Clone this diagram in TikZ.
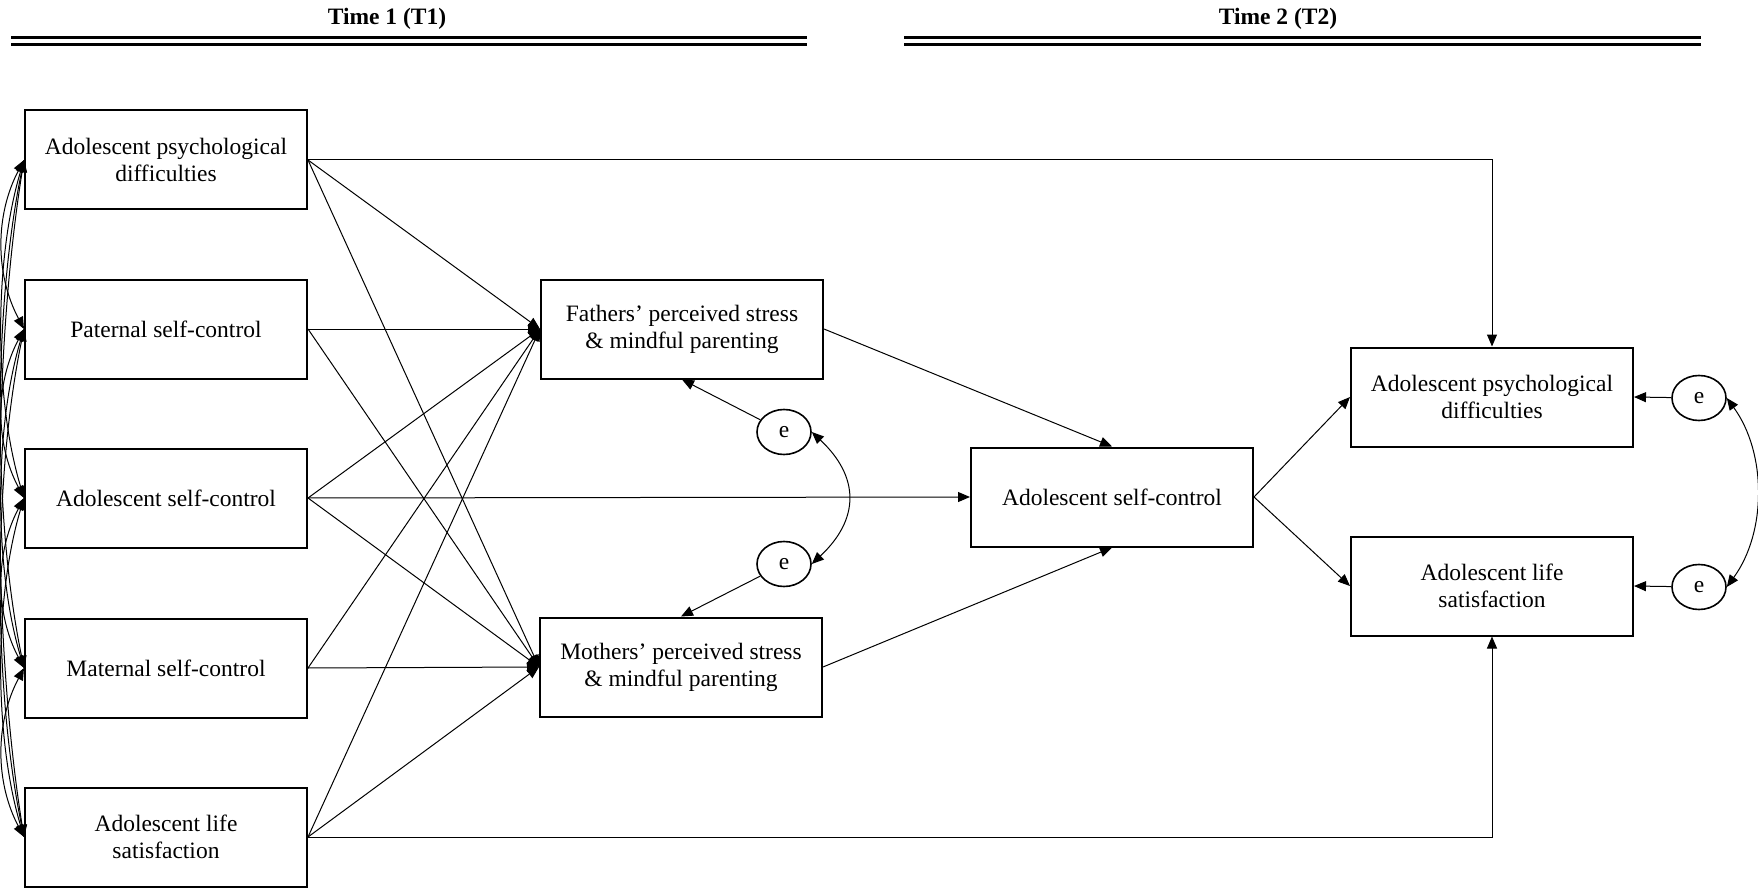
\documentclass[tikz,border=0pt]{standalone}
\usepackage{fontspec}
\setmainfont{Liberation Serif}
\usetikzlibrary{arrows.meta,shapes.geometric}
\begin{document}
\begin{tikzpicture}[x=0.5pt,y=-0.5pt,
  box/.style={draw, line width=1pt, minimum width=141pt, minimum height=49.5pt, align=center, inner sep=0pt, font=\fontsize{11.75pt}{13.5pt}\selectfont},
  err/.style={draw, line width=0.8pt, ellipse, minimum width=27pt, minimum height=22.5pt, inner sep=0pt, font=\fontsize{11.75pt}{13.5pt}\selectfont},
  arr/.style={line width=0.5pt, -{Triangle[length=6pt,width=5pt]}},
  darr/.style={line width=0.5pt, {Triangle[length=6pt,width=5pt]}-{Triangle[length=6pt,width=5pt]}},
  hdr/.style={font=\fontsize{11.75pt}{13.5pt}\selectfont\bfseries},
  rule/.style={line width=1.5pt}
]
\useasboundingbox (0,0) rectangle (1758,888);

% headers
\node[hdr] (h1) at (387,19) {Time 1 (T1)};
\node[hdr] (h2) at (1278,19) {Time 2 (T2)};
\draw[rule] (11,38) -- (807,38);
\draw[rule] (11,45) -- (807,45);
\draw[rule] (904,38) -- (1701,38);
\draw[rule] (904,45) -- (1701,45);

% T1 boxes
\node[box] (L1) at (166,160) {Adolescent psychological\\difficulties};
\node[box] (L2) at (166,329) {Paternal self-control};
\node[box] (L3) at (166,498) {Adolescent self-control};
\node[box] (L4) at (166,668) {Maternal self-control};
\node[box] (L5) at (166,837) {Adolescent life\\satisfaction};

% mediators
\node[box] (F) at (682,329) {Fathers’ perceived stress\\\& mindful parenting};
\node[box] (M) at (681,667) {Mothers’ perceived stress\\\& mindful parenting};
\node[box] (C) at (1112,497) {Adolescent self-control};

% T2 outcomes
\node[box] (R1) at (1492,397) {Adolescent psychological\\difficulties};
\node[box] (R2) at (1492,586) {Adolescent life\\satisfaction};

% error terms
\node[err] (e1) at (784,432) {e};
\node[err] (e2) at (784,564) {e};
\node[err] (r1) at (1699,398) {e};
\node[err] (r2) at (1699,587) {e};

% correlations among T1 variables
\foreach \i/\j/\c/\d in {1/2/29/55, 2/3/29/55, 3/4/29/55, 4/5/29/55,
                         1/3/30/100, 2/4/30/100, 3/5/30/100,
                         1/4/31/150, 2/5/31/150, 1/5/32/200}
  \draw[darr] (L\i.west) .. controls +(-\c,\d) and +(-\c,-\d) .. (L\j.west);

% paths to mediators
\foreach \i in {1,...,5} {
  \draw[arr] (L\i.east) -- (F.west);
  \draw[arr] (L\i.east) -- (M.west);
}
\draw[arr] (L3.east) -- (C.west);
\draw[arr] (L1.east) -| (R1.north);
\draw[arr] (L5.east) -| (R2.south);

\draw[arr] (F.east) -- (C.north);
\draw[arr] (M.east) -- (C.south);
\draw[arr] (C.east) -- (R1.west);
\draw[arr] (C.east) -- (R2.west);

% error terms
\draw[arr] (e1) -- (F.south);
\draw[arr] (e2) -- (M.north);
\draw[darr] (e1.east) .. controls +(48,45) and +(48,-45) .. (e2.east);
\draw[arr] (r1) -- (R1.east);
\draw[arr] (r2) -- (R2.east);
\draw[darr] (r1.east) .. controls +(40,55) and +(40,-55) .. (r2.east);
\end{tikzpicture}
\end{document}
